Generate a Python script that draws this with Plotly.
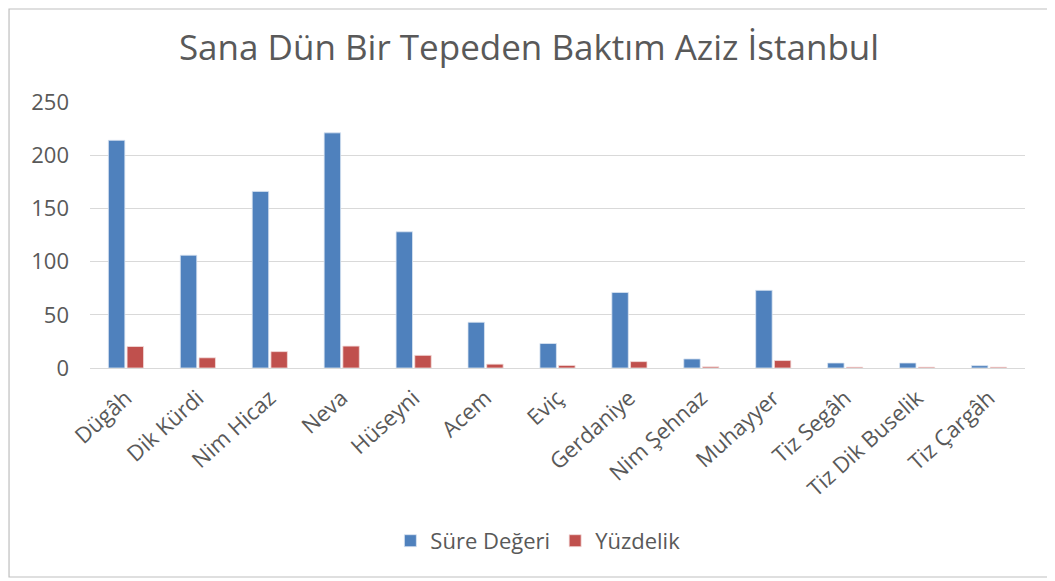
import plotly.graph_objects as go

TITLE = "Sana Dün Bir Tepeden Baktım Aziz İstanbul"
BLUE = "#4f81bd"
RED = "#c0504d"
GREY = "#595959"
FONT = "Open Sans"

categories = [
    "Dügâh", "Dik Kürdi", "Nim Hicaz", "Neva", "Hüseyni", "Acem", "Eviç",
    "Gerdaniye", "Nim Şehnaz", "Muhayyer", "Tiz Segâh", "Tiz Dik Buselik", "Tiz Çargâh",
]
sure_degeri = [214, 106, 166, 221, 128, 43, 23, 71, 8.5, 73, 4.7, 4.7, 2.2]
yuzdelik = [20.2, 9.6, 15.4, 20.6, 11.9, 3.6, 2.4, 6.0, 1.1, 7.0, 0.8, 0.8, 0.8]
y_ticks = [0, 50, 100, 150, 200, 250]

fig = go.Figure()
fig.add_trace(go.Bar(
    x=categories, y=sure_degeri, name="Süre Değeri",
    marker=dict(color=BLUE, line=dict(color="#dbe5f1", width=0.8)),
))
fig.add_trace(go.Bar(
    x=categories, y=yuzdelik, name="Yüzdelik",
    marker=dict(color=RED, line=dict(color="#f2dcdb", width=0.8)),
))

# the page adds an 8px body margin, so the figure is a bit smaller than the window
fig.update_layout(
    width=1042,
    height=570,
    template="plotly_white",
    paper_bgcolor="white",
    plot_bgcolor="white",
    title=dict(text=TITLE, x=0.5, xanchor="center", y=0.93, yanchor="middle",
               font=dict(family=FONT, size=35, color=GREY)),
    font=dict(family=FONT, color=GREY),
    barmode="group",
    bargap=0.48,
    bargroupgap=0.12,
    margin=dict(l=82, r=25, t=94, b=210, autoexpand=False),
    showlegend=True,
    legend=dict(orientation="h", x=0.479, xanchor="center", y=-0.65, yanchor="middle",
                font=dict(family=FONT, size=22, color=GREY)),
)
fig.update_xaxes(tickangle=-42, tickfont=dict(family=FONT, size=22, color=GREY),
                 ticklabelstandoff=12,
                 showgrid=False, showline=False, ticks="", automargin=False)
fig.update_yaxes(range=[0, 250], tickvals=y_ticks, tickfont=dict(family=FONT, size=22, color=GREY),
                 ticklabelstandoff=20,
                 gridcolor="#d9d9d9", gridwidth=1, zeroline=True, zerolinecolor="#d9d9d9",
                 zerolinewidth=1, showline=False, ticks="", ticklen=0, automargin=False)
# outer chart border
fig.add_shape(type="rect", xref="paper", yref="paper",
              x0=-0.0866, x1=1.0257, y0=-0.7857, y1=1.3496,
              line=dict(color="#bfbfbf", width=1.2), fillcolor="rgba(0,0,0,0)")

fig.write_html("out.html")
